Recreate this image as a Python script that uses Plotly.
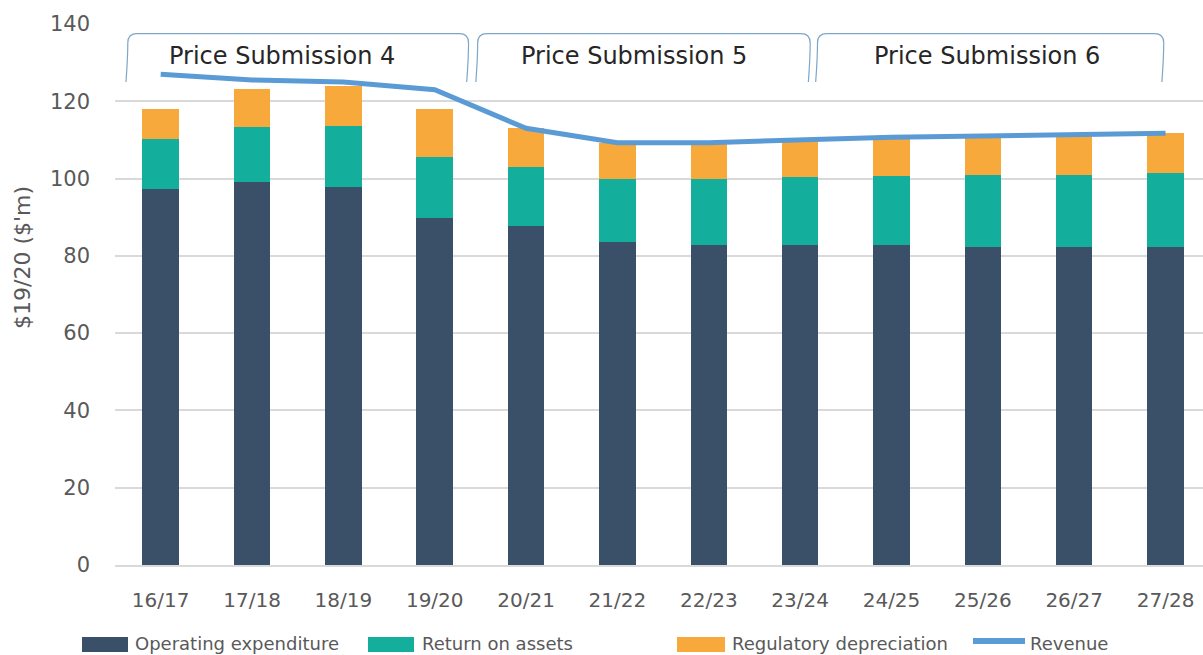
import plotly.graph_objects as go

# Financial years shown on the category axis
years = ["16/17", "17/18", "18/19", "19/20", "20/21", "21/22",
         "22/23", "23/24", "24/25", "25/26", "26/27", "27/28"]

# Revenue building blocks, $19/20 ($'m)
operating_expenditure = [97.3, 99.1, 97.9, 89.7, 87.6, 83.5, 82.8, 82.8, 82.8, 82.4, 82.4, 82.4]
return_on_assets = [13.0, 14.2, 15.7, 16.0, 15.5, 16.4, 17.1, 17.5, 17.9, 18.6, 18.6, 19.0]
regulatory_depreciation = [7.6, 9.8, 10.4, 12.2, 9.9, 9.3, 9.3, 9.3, 9.7, 9.9, 10.3, 10.5]
revenue = [127.0, 125.5, 125.0, 123.0, 113.0, 109.3, 109.3, 110.0, 110.7, 111.0, 111.4, 111.7]

# Regulatory periods labelled above the bars
periods = ["Price Submission 4", "Price Submission 5", "Price Submission 6"]

C_OPEX = "#3A5069"
C_ROA = "#14AF9C"
C_DEP = "#F8A93B"
C_REV = "#5B9BD5"
AXIS_TXT = "#595959"
GRID = "#D9D9D9"
FONT = "DejaVu Sans"

x = list(range(len(years)))

fig = go.Figure()
fig.add_trace(go.Bar(x=x, y=operating_expenditure, name="Operating expenditure",
                     marker=dict(color=C_OPEX, line=dict(width=0)), width=0.40))
fig.add_trace(go.Bar(x=x, y=return_on_assets, name="Return on assets",
                     marker=dict(color=C_ROA, line=dict(width=0)), width=0.40))
fig.add_trace(go.Bar(x=x, y=regulatory_depreciation, name="Regulatory depreciation",
                     marker=dict(color=C_DEP, line=dict(width=0)), width=0.40))
fig.add_trace(go.Scatter(x=x, y=revenue, name="Revenue", mode="lines",
                         line=dict(color=C_REV, width=5)))

# Period brackets with rounded top corners
shapes = []
annotations = []
y_top, y_bot = 137.5, 125.0
rx, ry = 0.10, 2.4
bracket_edges = [(-0.36, 3.37), (3.47, 7.11), (7.19, 10.98)]
label_x = [1.33, 5.18, 9.05]
for (x0, x1), name, lx in zip(bracket_edges, periods, label_x):
    path = (f"M {x0 - 0.02},{y_bot} "
            f"Q {x0},{(y_bot + y_top) / 2} {x0},{y_top - ry} "
            f"Q {x0},{y_top} {x0 + rx},{y_top} "
            f"L {x1 - rx},{y_top} "
            f"Q {x1},{y_top} {x1},{y_top - ry} "
            f"Q {x1},{(y_bot + y_top) / 2} {x1 - 0.02},{y_bot}")
    shapes.append(dict(type="path", path=path, xref="x", yref="y",
                       line=dict(color="#7EA6C8", width=1.2), layer="above"))
    annotations.append(dict(x=lx, y=131.8, xref="x", yref="y", text=name,
                            showarrow=False, font=dict(family=FONT, size=24, color="#262626")))

# Custom legend row below the axis
PL, PW, PT, PH = 115, 1088, 24, 541


def px_x(px):
    return (px - PL) / PW


def px_y(py):
    return (PT + PH - py) / PH


legend_items = [
    ("Operating expenditure", C_OPEX, "box", 82, 128, 133),
    ("Return on assets", C_ROA, "box", 368, 414, 420),
    ("Regulatory depreciation", C_DEP, "box", 677, 725, 730),
    ("Revenue", C_REV, "line", 973, 1025, 1028),
]
for label, color, kind, sx0, sx1, tx in legend_items:
    if kind == "box":
        shapes.append(dict(type="rect", xref="paper", yref="paper",
                           x0=px_x(sx0), x1=px_x(sx1), y0=px_y(652), y1=px_y(637),
                           fillcolor=color, line=dict(width=0)))
    else:
        shapes.append(dict(type="line", xref="paper", yref="paper",
                           x0=px_x(sx0), x1=px_x(sx1), y0=px_y(641), y1=px_y(641),
                           line=dict(color=color, width=6)))
    annotations.append(dict(x=px_x(tx), y=px_y(643), xref="paper", yref="paper",
                            xanchor="left", yanchor="middle", text=label, showarrow=False,
                            font=dict(family=FONT, size=18, color=AXIS_TXT)))

# Vertical axis title
annotations.append(dict(x=px_x(22), y=px_y(258), xref="paper", yref="paper",
                        text="$19/20 ($'m)", textangle=-90, showarrow=False,
                        xanchor="center", yanchor="middle",
                        font=dict(family=FONT, size=22, color=AXIS_TXT)))

fig.update_layout(
    width=1203, height=655,
    margin=dict(l=PL, r=0, t=PT, b=655 - PT - PH),
    barmode="stack",
    plot_bgcolor="white", paper_bgcolor="white",
    showlegend=False,
    shapes=shapes, annotations=annotations,
    font=dict(family=FONT, color=AXIS_TXT),
)
fig.update_xaxes(
    range=[-0.5, 11.41], tickmode="array", tickvals=x, ticktext=years,
    showgrid=False, showline=True, linecolor=GRID, linewidth=1.5,
    ticks="", ticklabelstandoff=16, tickfont=dict(family=FONT, size=20, color=AXIS_TXT),
    zeroline=False,
)
fig.update_yaxes(
    range=[0, 140], tickvals=list(range(0, 141, 20)),
    showgrid=True, gridcolor=GRID, gridwidth=1.5, zeroline=False, showline=False,
    ticks="", ticklabelstandoff=24, tickfont=dict(family=FONT, size=21, color=AXIS_TXT),
)

fig.write_html("out.html")
